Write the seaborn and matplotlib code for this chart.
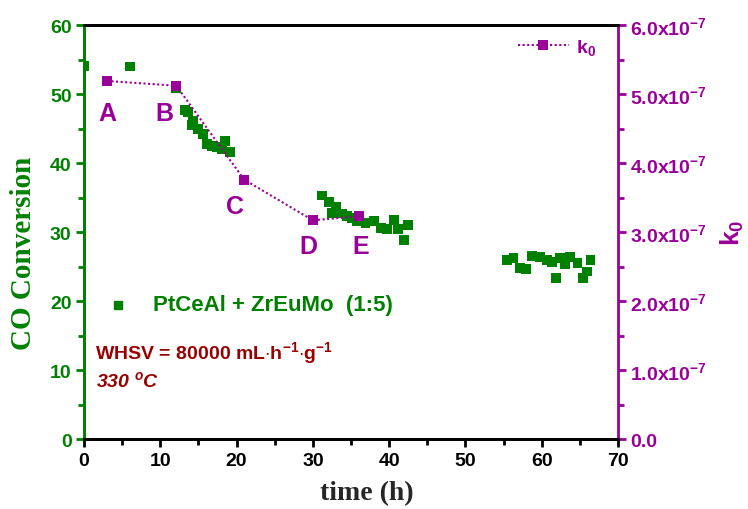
import matplotlib
matplotlib.use("Agg")
import matplotlib.pyplot as plt
import seaborn as sns
import pandas as pd
import numpy as np
from matplotlib.ticker import MultipleLocator, FuncFormatter

sns.set_style("white")
plt.rcParams['font.family'] = ['Liberation Sans', 'DejaVu Sans']
plt.rcParams['mathtext.fontset'] = 'custom'
plt.rcParams['mathtext.rm'] = 'Liberation Sans:bold'
plt.rcParams['mathtext.bf'] = 'Liberation Sans:bold'
plt.rcParams['mathtext.it'] = 'Liberation Sans:bold:italic'

GREEN = "#008000"
PURPLE = "#990099"
DRED = "#990000"

# CO conversion data
time_h = [0.0, 6.0, 12.1, 13.2, 13.6, 14.3, 14.1, 14.9, 15.6, 16.1, 16.8, 17.4, 18.1, 18.5, 19.1,
          31.2, 32.1, 33.0, 32.5, 33.8, 34.5, 35.1, 35.8, 36.9, 38.0, 38.9, 39.7, 40.6, 41.2, 41.9, 42.5,
          55.5, 56.3, 57.1, 57.9, 58.7, 59.8, 60.7, 61.4, 61.9, 62.4, 63.0, 63.7, 64.7, 65.4, 65.9, 66.4]
co_conv = [54.1, 54.0, 50.9, 47.7, 47.4, 46.1, 45.5, 44.9, 44.2, 42.8, 42.5, 42.3, 42.0, 43.2, 41.6,
           35.3, 34.3, 33.6, 32.8, 32.7, 32.3, 32.0, 31.6, 31.3, 31.6, 30.6, 30.4, 31.7, 30.4, 28.8, 31.0,
           25.9, 26.2, 24.8, 24.6, 26.5, 26.4, 25.9, 25.7, 23.3, 26.2, 25.3, 26.4, 25.5, 23.3, 24.3, 25.9]

# k0 data (units of 1e-7)
k0_time = [3.0, 12.1, 21.0, 30.0, 36.0]
k0_vals = [5.19, 5.12, 3.76, 3.17, 3.23]
k0_labels = ["A", "B", "C", "D", "E"]

df = pd.DataFrame({"time": time_h, "co": co_conv})
dk = pd.DataFrame({"time": k0_time, "k0": k0_vals})

fig = plt.figure(figsize=(7.48, 5.10), dpi=100)
ax = fig.add_axes([0.1123, 0.137, 0.7139, 0.812])
ax2 = ax.twinx()

sns.scatterplot(data=df, x="time", y="co", ax=ax, marker="s", s=50, color=GREEN,
                edgecolor="none", linewidth=0, legend=False, zorder=3)
sns.lineplot(data=dk, x="time", y="k0", ax=ax2, color=PURPLE, linestyle=(0, (1, 1.2)),
             linewidth=1.5, marker="s", markersize=7, markeredgewidth=0, legend=False,
             label="k$_0$")

ax.set_xlim(0, 70)
ax.set_ylim(0, 60)
ax2.set_ylim(0, 6.0)

ax.xaxis.set_major_locator(MultipleLocator(10))
ax.xaxis.set_minor_locator(MultipleLocator(5))
ax.yaxis.set_major_locator(MultipleLocator(10))
ax.yaxis.set_minor_locator(MultipleLocator(5))
ax2.yaxis.set_major_locator(MultipleLocator(1))
ax2.yaxis.set_minor_locator(MultipleLocator(0.5))

def k0fmt(v, pos):
    if abs(v) < 1e-9:
        return "0.0"
    return f"{v:.1f}x10$^{{-7}}$"
ax2.yaxis.set_major_formatter(FuncFormatter(k0fmt))

for a in (ax, ax2):
    for s in a.spines.values():
        s.set_linewidth(2)
        s.set_color("black")
ax.spines['left'].set_color(GREEN)
ax2.spines['left'].set_color(GREEN)
ax2.spines['right'].set_color(PURPLE)
ax.spines['right'].set_visible(False)

ax.tick_params(axis="x", which="both", direction="out", bottom=True, colors="black",
               width=2, labelsize=14, pad=3)
ax.tick_params(axis="x", which="major", length=6)
ax.tick_params(axis="x", which="minor", length=4)
ax.tick_params(axis="y", which="both", direction="out", left=True, color=GREEN,
               labelcolor=GREEN, width=2, labelsize=14, pad=3)
ax.tick_params(axis="y", which="major", length=6)
ax.tick_params(axis="y", which="minor", length=4)
ax2.tick_params(axis="y", which="both", direction="out", right=True, color=PURPLE,
                labelcolor=PURPLE, width=2, labelsize=14, pad=3)
ax2.tick_params(axis="y", which="major", length=6)
ax2.tick_params(axis="y", which="minor", length=4)
for lab in ax.get_xticklabels() + ax.get_yticklabels() + ax2.get_yticklabels():
    lab.set_fontweight("bold")

ax.set_xlabel("time (h)", fontsize=20, fontweight="bold", family="Liberation Serif")
ax.xaxis.set_label_coords(0.53, -0.098)
ax.set_ylabel("CO Conversion", fontsize=21, fontweight="bold", family="Liberation Serif",
              color=GREEN)
ax.yaxis.set_label_coords(-0.088, 0.45)
ax2.set_ylabel("k$_0$", fontsize=19, fontweight="bold", color=PURPLE, labelpad=8)

# Point letters
letter_pos = [(3.0, 4.73), (10.6, 4.73), (19.8, 3.38), (29.4, 2.80), (36.3, 2.80)]
for lab, (lx, ly) in zip(k0_labels, letter_pos):
    ax2.text(lx, ly, lab, color=PURPLE, fontsize=18, fontweight="bold", ha="center", va="center")

# Legends
leg2 = ax2.legend(loc="upper right", frameon=False, fontsize=14, handlelength=2.6,
                  bbox_to_anchor=(0.985, 1.005), borderaxespad=0.3, handletextpad=0.4)
for t in leg2.get_texts():
    t.set_color(PURPLE)
    t.set_fontweight("bold")

ax.plot([4.5], [19.5], marker="s", color=GREEN, markersize=6, linestyle="none")
ax.text(9.0, 19.5, "PtCeAl + ZrEuMo  (1:5)", color=GREEN, fontsize=16, fontweight="bold",
        va="center", ha="left")
ax.text(1.4, 12.6, "WHSV = 80000 mL$\\cdot$h$^{-1}$$\\cdot$g$^{-1}$", color=DRED,
        fontsize=14, fontweight="bold", va="center", ha="left")
ax.text(1.6, 8.6, "330 $^{o}$C", color=DRED, fontsize=14, fontweight="bold", style="italic",
        va="center", ha="left")

fig.savefig("out.png", dpi=100)
